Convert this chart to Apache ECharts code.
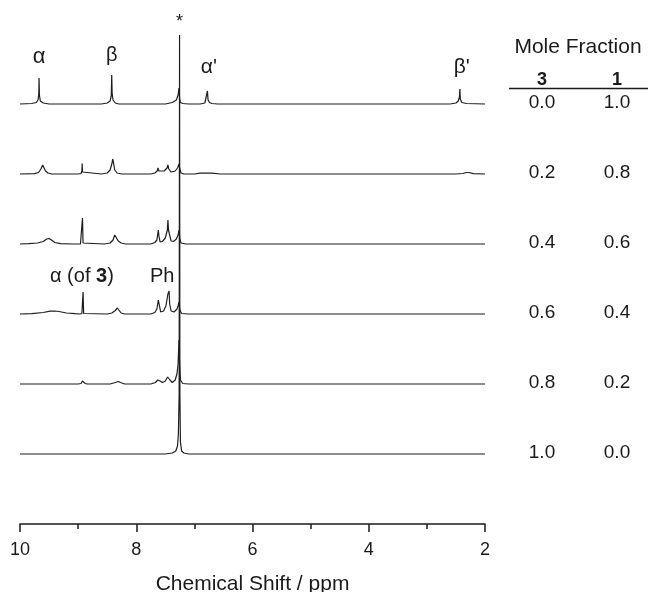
<!DOCTYPE html>
<html>
<head>
<meta charset="utf-8">
<script src="https://cdn.jsdelivr.net/npm/echarts@6/dist/echarts.min.js"></script>
<style>
  html, body { margin: 0; padding: 0; background: #fff; }
  #chart { width: 648px; height: 592px; }
</style>
</head>
<body>
<div id="chart"></div>
<script>
// 1H NMR spectra of mixtures of 3 and 1, [shift (ppm), intensity] pairs.
// Spectra are listed top to bottom (mole fraction of 3 rising).
const spec30 = [
  [10,0],[9.80,0.5],[9.72,1.5],[9.69,4],[9.677,10],[9.672,26],[9.666,9],[9.65,3],[9.60,1],[9.5,0],
  [8.6,0],[8.50,1],[8.45,3],[8.43,8],[8.422,29],[8.415,11],[8.40,4],[8.36,1],[8.3,0],
  [7.5,0],[7.38,1.5],[7.31,4],[7.28,9],[7.265,16],[7.255,6],[7.24,1.5],[7.20,0.5],[7.1,0],
  [6.90,0],[6.82,1],[6.79,3],[6.775,13],[6.765,4],[6.74,1.5],[6.70,0.5],[6.6,0],
  [2.60,0],[2.50,1],[2.46,3],[2.44,7],[2.432,15],[2.425,5],[2.40,1.5],[2.32,0.5],[2,0]
];
const spec32 = [
  [10,0],[9.75,0.3],[9.68,1.5],[9.64,5],[9.61,9],[9.59,8],[9.56,3],[9.52,1],[9.45,0],
  [9.0,0],[8.95,0.5],[8.935,3],[8.93,10.5],[8.925,2],[8.9,0],
  [8.6,0],[8.50,1],[8.45,4],[8.42,10],[8.405,15],[8.39,11],[8.37,4],[8.33,1],[8.25,0],
  [7.75,0],[7.68,1],[7.64,3],[7.625,6],[7.61,3],[7.58,1.5],[7.52,3],[7.47,6],[7.455,9],[7.44,5],
  [7.40,2],[7.33,3],[7.29,6],[7.265,10],[7.25,5],[7.23,1],[7.18,0],
  [7.0,0],[6.9,0.8],[6.7,0.8],[6.55,0],
  [2.5,0],[2.38,0.5],[2.32,1.5],[2.28,1.5],[2.2,0.3],[2,0]
];
const spec34 = [
  [10,0],[9.85,0.3],[9.7,1],[9.6,2.5],[9.54,5],[9.5,5.5],[9.46,4],[9.4,1.5],[9.3,0.3],[9.1,0],
  [8.96,0],[8.935,1],[8.925,26],[8.915,1],[8.89,0],
  [8.55,0],[8.45,1],[8.40,4],[8.37,9],[8.355,11],[8.34,8],[8.31,3],[8.26,1],[8.18,0],
  [7.75,0],[7.68,1.5],[7.645,4],[7.63,10],[7.62,14],[7.61,8],[7.59,2],[7.55,2.5],[7.50,6],
  [7.465,14],[7.455,24],[7.445,14],[7.43,10],[7.40,3],[7.36,2.5],[7.31,5],[7.28,9],[7.265,14],
  [7.25,5],[7.23,1],[7.15,0],[2,0]
];
const spec36 = [
  [10,0],[9.8,0.3],[9.6,1.5],[9.48,2.8],[9.40,3],[9.33,2.5],[9.2,1],[9.05,0.3],[8.97,0],
  [8.935,0.5],[8.915,22],[8.905,0.5],[8.88,0],
  [8.5,0],[8.42,1],[8.36,3.5],[8.325,6],[8.30,4],[8.26,1],[8.2,0],
  [7.75,0],[7.68,1.5],[7.645,5],[7.62,14],[7.61,16],[7.60,8],[7.58,2],[7.53,3],[7.49,8],
  [7.455,20],[7.445,18],[7.435,23],[7.425,10],[7.40,3],[7.35,2],[7.30,5],[7.28,8],[7.265,12],
  [7.25,4],[7.22,0.5],[7.1,0],[6.92,0],[6.9,1.5],[6.88,0],[2,0]
];
const spec38 = [
  [10,0],[9.0,0],[8.95,0.5],[8.925,3],[8.91,3.5],[8.89,1],[8.85,0],
  [8.45,0],[8.36,1.5],[8.31,2.5],[8.27,1.5],[8.2,0],
  [7.75,0],[7.67,1.5],[7.63,4],[7.61,5.5],[7.59,3],[7.55,1.5],[7.50,3],[7.46,7],[7.44,7.5],
  [7.42,4],[7.38,1.5],[7.33,4],[7.30,10],[7.28,20],[7.265,44],[7.255,20],[7.24,4],[7.2,0.5],
  [7.1,0],[2,0]
];
const spec310 = [
  [10,0],[7.5,0],[7.38,1],[7.32,3],[7.29,8],[7.275,20],[7.262,60],[7.255,419],[7.249,60],
  [7.24,12],[7.22,3],[7.18,1],[7.1,0],[6.92,0],[6.9,1],[6.88,0],[2,0]
];

const spectra = [spec30, spec32, spec34, spec36, spec38, spec310];
const fraction3 = ['0.0', '0.2', '0.4', '0.6', '0.8', '1.0'];
const fraction1 = ['1.0', '0.8', '0.6', '0.4', '0.2', '0.0'];
const xTicks = [10, 8, 6, 4, 2];

// vertical spacing between stacked traces (intensity units)
const stackStep = 70;

const FONT = '"Liberation Sans", Arial, sans-serif';
const INK = '#1a1a1a';

const chart = echarts.init(document.getElementById('chart'), null, { renderer: 'canvas' });

const series = spectra.map((pts, i) => {
  const offset = (spectra.length - i) * stackStep;
  return {
    type: 'line',
    data: pts.map(p => [p[0], p[1] + offset]),
    showSymbol: false,
    symbol: 'none',
    silent: true,
    lineStyle: { color: '#1e1e1e', width: 1.2 },
    z: 2
  };
});

chart.setOption({
  animation: false,
  backgroundColor: '#fff',
  grid: { left: 20, right: 163, top: 20, bottom: 68, containLabel: false, outerBoundsMode: 'none' },
  xAxis: {
    type: 'value',
    inverse: true,
    min: xTicks[xTicks.length - 1],
    max: xTicks[0],
    interval: 2,
    name: 'Chemical Shift / ppm',
    nameLocation: 'middle',
    nameGap: 50,
    nameTextStyle: { fontFamily: FONT, fontSize: 21, color: INK },
    axisLine: { lineStyle: { color: INK, width: 1.5 } },
    axisTick: { show: true, inside: false, length: 8, lineStyle: { color: INK, width: 1.5 } },
    minorTick: { show: true, splitNumber: 2, length: 5, lineStyle: { color: INK, width: 1.5 } },
    axisLabel: { fontFamily: FONT, fontSize: 18, color: INK, margin: 17 },
    splitLine: { show: false }
  },
  yAxis: {
    type: 'value',
    min: 0,
    max: 504,
    show: false,
    splitLine: { show: false }
  },
  series: series
});

// annotations: peak labels and the mole-fraction table
function px(ppm, val) { return chart.convertToPixel({ gridIndex: 0 }, [ppm, val]); }

function label(text, x, y, size, align, weight) {
  return {
    type: 'text',
    x: x, y: y,
    style: {
      text: text, fontFamily: FONT, fontSize: size, fill: INK,
      fontWeight: weight || 'normal',
      align: align || 'center', verticalAlign: 'middle'
    },
    z: 10
  };
}

const g = [];
g.push(label('α', px(9.67, 0)[0], 57, 22));
g.push(label('β', px(8.42, 0)[0], 55, 20));
g.push(label("α'", px(6.75, 0)[0], 67, 21));
g.push(label("β'", px(2.40, 0)[0], 67, 21));
g.push(label('*', px(7.255, 0)[0], 22, 18));
g.push({
  type: 'text', x: 50, y: 276, z: 10,
  style: {
    text: '{n|α (of }{b|3}{n|)}',
    verticalAlign: 'middle', align: 'left',
    rich: {
      n: { fontFamily: FONT, fontSize: 20, fill: INK, color: INK },
      b: { fontFamily: FONT, fontSize: 20, fontWeight: 'bold', fill: INK, color: INK }
    }
  }
});
g.push(label('Ph', 150, 276, 20, 'left'));

// table header
const col3 = 542, col1 = 617;
g.push(label('Mole Fraction', 578, 47, 21));
g.push(label('3', col3, 80, 18, 'center', 'bold'));
g.push(label('1', col1, 80, 18, 'center', 'bold'));
g.push({ type: 'line', shape: { x1: 509, y1: 88.5, x2: 648, y2: 88.5 }, style: { stroke: INK, lineWidth: 1.6 }, z: 10 });

spectra.forEach((_, i) => {
  const y = px(10, (spectra.length - i) * stackStep)[1] - 1;
  g.push(label(fraction3[i], col3, y, 19));
  g.push(label(fraction1[i], col1, y, 19));
});

chart.setOption({ graphic: { elements: g } });
</script>
</body>
</html>
